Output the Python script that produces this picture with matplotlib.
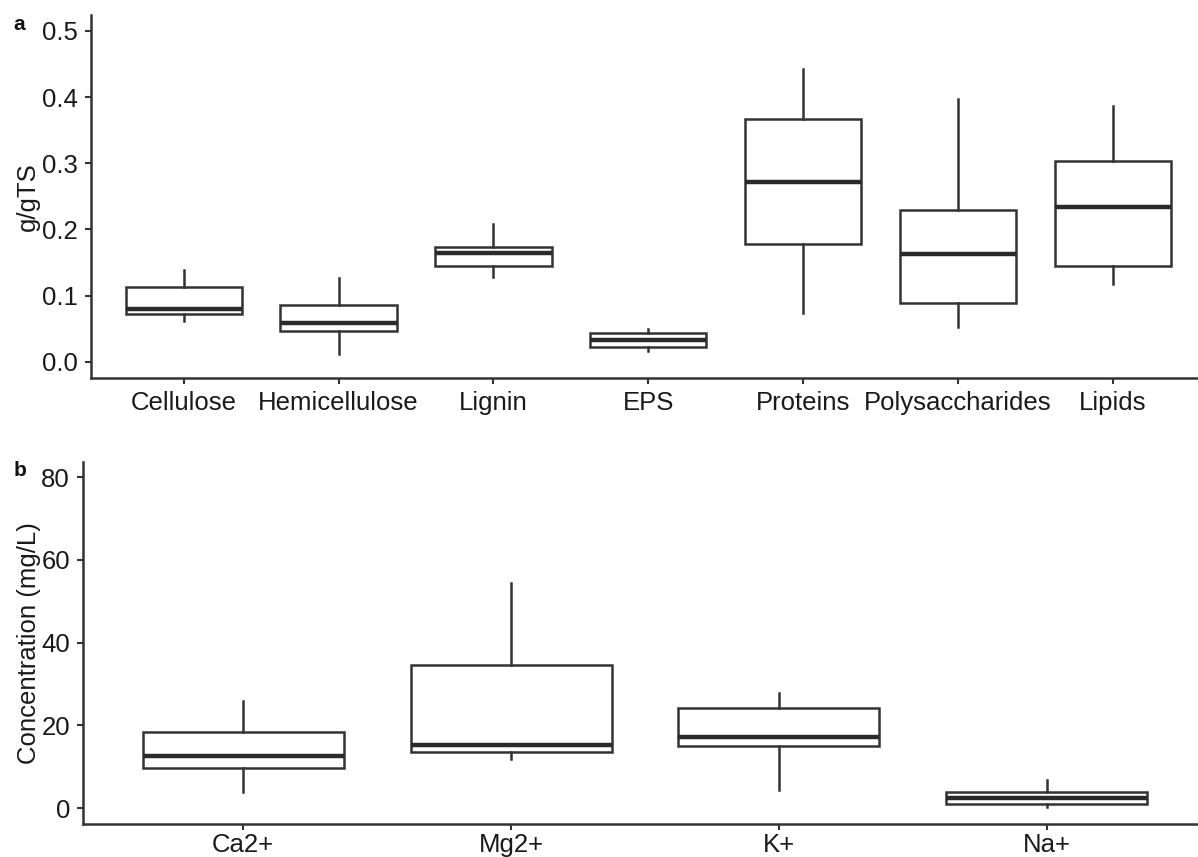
import matplotlib
matplotlib.use("Agg")
import matplotlib.pyplot as plt

plt.rcParams["font.family"] = ["Liberation Sans", "DejaVu Sans"]

# five-number summaries per group (whisker low, Q1, median, Q3, whisker high)
cats_a = ["Cellulose", "Hemicellulose", "Lignin", "EPS", "Proteins", "Polysaccharides", "Lipids"]
low_a = [0.062, 0.012, 0.128, 0.016, 0.073, 0.053, 0.117]
q1_a = [0.072, 0.046, 0.144, 0.023, 0.178, 0.089, 0.144]
med_a = [0.080, 0.059, 0.165, 0.033, 0.271, 0.163, 0.234]
q3_a = [0.113, 0.086, 0.173, 0.043, 0.367, 0.230, 0.303]
high_a = [0.138, 0.126, 0.208, 0.049, 0.443, 0.397, 0.387]
yticks_a = [0.0, 0.1, 0.2, 0.3, 0.4, 0.5]

cats_b = ["Ca2+", "Mg2+", "K+", "Na+"]
low_b = [4.0, 11.8, 4.4, 0.2]
q1_b = [9.8, 13.7, 15.1, 1.0]
med_b = [12.7, 15.4, 17.3, 2.5]
q3_b = [18.5, 34.5, 24.3, 3.9]
high_b = [26.0, 54.4, 27.8, 6.8]
yticks_b = [0, 20, 40, 60, 80]

LINE = "#333333"
TXT = "#1a1a1a"
FS = 18.5


def stats_list(cats, lo, q1, med, q3, hi):
    return [dict(label=c, whislo=a, q1=b, med=m, q3=d, whishi=e)
            for c, a, b, m, d, e in zip(cats, lo, q1, med, q3, hi)]


def draw_panel(ax, stats, yticks, ylim, ylabel, fmt, xpad=5):
    n = len(stats)
    pos = list(range(1, n + 1))
    ax.bxp(stats, positions=pos, widths=0.75, showfliers=False, showcaps=False,
           patch_artist=True,
           boxprops=dict(facecolor="white", edgecolor=LINE, linewidth=1.8),
           whiskerprops=dict(color=LINE, linewidth=1.8),
           medianprops=dict(color="#2a2a2a", linewidth=3.2, solid_capstyle="butt"))
    ax.set_xlim(0.4, n + 0.6)
    ax.set_ylim(*ylim)
    ax.set_yticks(yticks)
    ax.set_yticklabels([fmt.format(v) for v in yticks])
    ax.set_xticks(pos)
    ax.set_xticklabels([s["label"] for s in stats])
    for side in ("top", "right"):
        ax.spines[side].set_visible(False)
    for side in ("left", "bottom"):
        ax.spines[side].set_color(LINE)
        ax.spines[side].set_linewidth(1.8)
    ax.tick_params(axis="both", colors=LINE, length=4, width=1.5,
                   labelsize=FS, labelcolor=TXT, pad=5)
    ax.tick_params(axis="x", pad=xpad)
    ax.set_ylabel(ylabel, fontsize=FS, color=TXT)


fig = plt.figure(figsize=(11.98, 8.57), dpi=100)

ax_a = fig.add_axes([0.0757, 0.5586, 0.931, 0.4239])
draw_panel(ax_a, stats_list(cats_a, low_a, q1_a, med_a, q3_a, high_a),
           yticks_a, (-0.025, 0.524), "g/gTS", "{:.1f}")
ax_a.yaxis.set_label_coords(-0.046, 0.5)

ax_b = fig.add_axes([0.0689, 0.0382, 0.939, 0.4232])
draw_panel(ax_b, stats_list(cats_b, low_b, q1_b, med_b, q3_b, high_b),
           yticks_b, (-3.87, 83.77), "Concentration (mg/L)", "{:d}", xpad=2)
ax_b.yaxis.set_label_coords(-0.037, 0.5)

fig.text(19 / 1198, 1 - 25 / 857, "a", fontsize=15, fontweight="bold",
         ha="center", va="center", color="#111111")
fig.text(20 / 1198, 1 - 471 / 857, "b", fontsize=15, fontweight="bold",
         ha="center", va="center", color="#111111")

fig.savefig("out.png", dpi=100, facecolor="white")
